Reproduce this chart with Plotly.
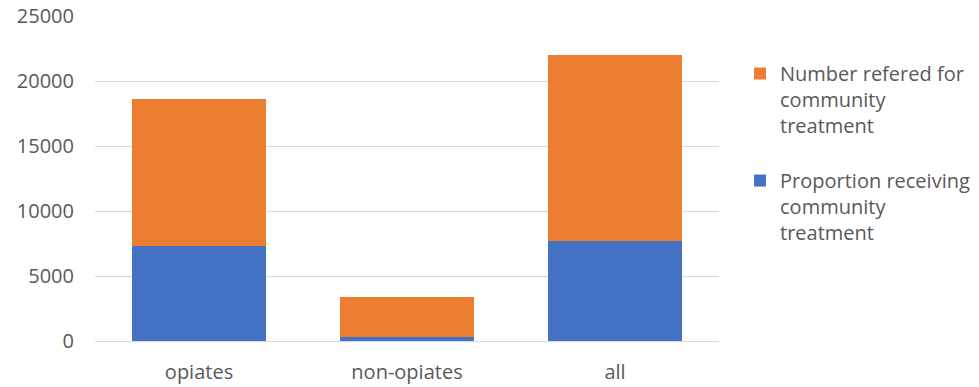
import plotly.graph_objects as go

categories = ["opiates", "non-opiates", "all"]
proportion_receiving = [7320, 310, 7730]
number_referred = [11270, 3080, 14270]
y_ticks = [0, 5000, 10000, 15000, 20000, 25000]

FONT = "Open Sans"
TXT = "#595959"

fig = go.Figure()
fig.add_trace(go.Bar(
    x=categories, y=proportion_receiving,
    name="Proportion receiving<br>community<br>treatment",
    marker=dict(color="#4472C4", line=dict(width=0)),
    legendgroup="b", legendrank=2,
))
fig.add_trace(go.Bar(
    x=categories, y=number_referred,
    name="Number refered for<br>community<br>treatment",
    marker=dict(color="#ED7D31", line=dict(width=0)),
    legendgroup="a", legendrank=1,
))

fig.update_layout(
    barmode="stack",
    bargap=0.356,
    width=979, height=387,
    margin=dict(l=95, r=260, t=16, b=46, autoexpand=False),
    paper_bgcolor="white",
    plot_bgcolor="white",
    font=dict(family=FONT, size=20, color=TXT),
    legend=dict(
        x=1.0337, xanchor="left",
        y=0.883, yanchor="top",
        traceorder="grouped",
        tracegroupgap=26,
        valign="top",
        font=dict(family=FONT, size=20, color=TXT),
        bgcolor="rgba(0,0,0,0)",
    ),
    xaxis=dict(
        showgrid=False, showline=False, ticks="",
        tickfont=dict(family=FONT, size=20, color=TXT),
        ticklabelstandoff=17,
        automargin=False,
    ),
    yaxis=dict(
        range=[0, 25000],
        tickvals=y_ticks,
        ticktext=[str(v) for v in y_ticks],
        showgrid=True, gridcolor="#D9D9D9", gridwidth=1,
        zeroline=True, zerolinecolor="#D9D9D9", zerolinewidth=1,
        showline=False, ticks="",
        tickfont=dict(family=FONT, size=20, color=TXT),
        ticklabelstandoff=20,
        automargin=False,
    ),
)

fig.write_html(
    "out.html",
    config={"displayModeBar": False},
    post_script="document.body.style.margin='0px';document.body.style.overflow='hidden';",
)
